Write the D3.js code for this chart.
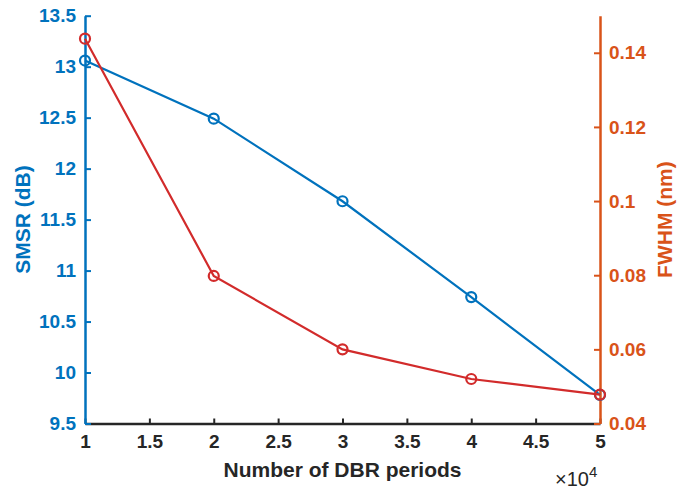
<!DOCTYPE html>
<html><head><meta charset="utf-8">
<script src="https://cdn.jsdelivr.net/npm/d3@7"></script>
<style>html,body{margin:0;padding:0;background:#fff;}svg{display:block;}</style>
</head><body>
<svg id="c" width="678" height="489"></svg>
<script>
const periods = [1, 2, 3, 4, 5];           // ×10^4
const smsr = [13.06, 12.49, 11.68, 10.74, 9.78];
const fwhm = [0.1438, 0.0798, 0.0600, 0.0520, 0.0478];
const xTicks = [1, 1.5, 2, 2.5, 3, 3.5, 4, 4.5, 5];
const yLeftTicks = [9.5, 10, 10.5, 11, 11.5, 12, 12.5, 13, 13.5];
const yRightTicks = [0.04, 0.06, 0.08, 0.1, 0.12, 0.14];

const blue = "#0072BD", orange = "#D95319", red = "#D22B2B", dark = "#262626";
const font = "'Liberation Sans', Arial, Helvetica, sans-serif";
const L = 85, R = 600, T = 15.7, B = 423.5;

const svg = d3.select("#c");
const x = d3.scaleLinear().domain([1, 5]).range([L, R]);
const yL = d3.scaleLinear().domain([9.5, 13.5]).range([B, T]);
const yR = d3.scaleLinear().domain([0.04, 0.15]).range([B, T]);

const fmt = d => String(+d.toFixed(2));

// x axis
const gx = svg.append("g").attr("transform", `translate(0,${B})`)
  .call(d3.axisBottom(x).tickValues(xTicks).tickSize(-5).tickSizeOuter(0).tickFormat(fmt));
gx.select(".domain").attr("stroke", dark).attr("stroke-width", 2.5);
gx.selectAll(".tick line").attr("stroke", dark).attr("stroke-width", 2);
gx.selectAll(".tick text").attr("fill", dark).attr("y", 11).attr("dy", "0.71em")
  .style("font", `bold 19px ${font}`);

// left axis
const gl = svg.append("g").attr("transform", `translate(${L},0)`)
  .call(d3.axisLeft(yL).tickValues(yLeftTicks).tickSize(-6).tickSizeOuter(0).tickFormat(fmt));
gl.select(".domain").attr("stroke", blue).attr("stroke-width", 2.5);
gl.selectAll(".tick line").attr("stroke", blue).attr("stroke-width", 2);
gl.selectAll(".tick text").attr("fill", blue).attr("x", -9)
  .style("font", `bold 19px ${font}`);

// right axis
const gr = svg.append("g").attr("transform", `translate(${R},0)`)
  .call(d3.axisRight(yR).tickValues(yRightTicks).tickSize(-6).tickSizeOuter(0).tickFormat(fmt));
gr.select(".domain").attr("stroke", orange).attr("stroke-width", 2.5);
gr.selectAll(".tick line").attr("stroke", orange).attr("stroke-width", 2);
gr.selectAll(".tick text").attr("fill", orange).attr("x", 9)
  .style("font", `bold 19px ${font}`);

// axis labels
svg.append("text").attr("transform", `translate(30,${(T + B) / 2}) rotate(-90)`)
  .attr("text-anchor", "middle").attr("fill", blue)
  .style("font", `bold 21px ${font}`).text("SMSR (dB)");
svg.append("text").attr("transform", `translate(657,${(T + B) / 2}) rotate(-90)`)
  .attr("text-anchor", "middle").attr("fill", orange).attr("dy", "0.71em")
  .style("font", `bold 21px ${font}`).text("FWHM (nm)");
svg.append("text").attr("x", (L + R) / 2).attr("y", 477)
  .attr("text-anchor", "middle").attr("fill", dark)
  .style("font", `bold 21px ${font}`).text("Number of DBR periods");
const mult = svg.append("text").attr("x", 555).attr("y", 486).attr("fill", dark)
  .style("font", `20px ${font}`);
mult.append("tspan").text("×10");
mult.append("tspan").attr("dy", -9).style("font-size", "15px").text("4");

// series
function series(vals, y, color) {
  const pts = periods.map((p, i) => [x(p), y(vals[i])]);
  svg.append("path").attr("d", d3.line()(pts)).attr("fill", "none")
    .attr("stroke", color).attr("stroke-width", 2.2);
  svg.append("g").selectAll("circle").data(pts).join("circle")
    .attr("cx", d => d[0]).attr("cy", d => d[1]).attr("r", 5)
    .attr("fill", "none").attr("stroke", color).attr("stroke-width", 2.2);
}
series(smsr, yL, blue);
series(fwhm, yR, red);
</script>
</body></html>
